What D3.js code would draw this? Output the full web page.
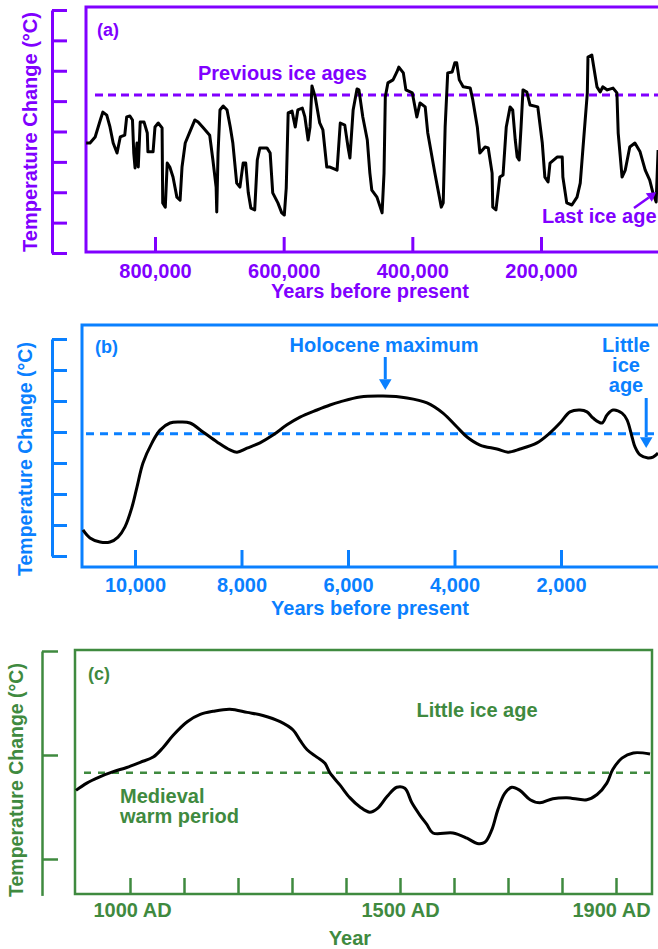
<!DOCTYPE html>
<html>
<head>
<meta charset="utf-8">
<script src="https://cdn.jsdelivr.net/npm/d3@7"></script>
<style>
  body { margin: 0; background: #fff; }
  svg text { font-family: "Liberation Sans", Arial, sans-serif; font-weight: bold; }
</style>
</head>
<body>
<svg id="chart" width="658" height="949"></svg>
<script>
// (a) thousands of years before present
const kyrA = [907,901,893,885,881,875,870,865,859,854,847,844,839,835,833,831,828,826,823,817,
  812,811,803,800,795,789,788,784,781,777,772,766,761,758,753,746,738,733,725,715,
  710,705,704,702,699,694,688,683,679,673,668,663,659,655,651,645,641,637,626,621,
  617,609,603,599,596,593,587,582,578,571,567,562,559,556,551,544,539,533,528,517,
  512,505,500,497,492,486,483,477,470,466,463,455,447,444,442,438,430,424,421,414,
  410,400,393,388,380,376,365,360,355,352,349,345,338,334,331,327,321,310,306,299,
  295,287,282,276,275,270,264,259,254,248,244,240,237,234,231,228,222,217,205,198,
  194,189,186,175,167,166,160,152,144,139,135,128,127,121,118,113,108,104,97,88,
  82,80,74,69,62,54,46,38,31,26,21,18];
const tempA = [3.62,3.62,3.82,4.38,4.64,4.54,4.15,3.62,3.29,3.82,3.88,4.48,4.51,4.38,3.29,2.80,3.62,2.83,4.31,4.31,
  3.95,3.33,3.33,4.15,4.28,4.12,1.65,1.51,2.96,2.83,2.50,1.84,1.74,2.83,3.62,3.98,4.38,4.31,4.12,3.88,
  3.06,2.17,1.35,3.29,4.71,4.84,4.71,4.15,3.62,2.30,2.17,2.96,2.96,1.98,1.48,1.42,3.06,3.46,3.46,3.29,
  1.98,1.65,1.32,1.25,2.14,4.61,4.67,4.15,4.71,4.77,4.48,3.72,4.15,5.50,5.14,4.28,4.05,2.83,2.83,2.73,
  4.28,4.21,3.49,3.13,4.71,5.40,5.37,4.48,3.72,2.63,2.07,1.84,1.32,2.63,5.14,5.60,5.70,5.96,6.12,5.93,
  5.37,5.27,4.48,4.94,4.81,3.95,2.63,2.07,1.51,1.65,4.15,5.93,5.96,6.26,6.26,5.70,5.47,5.43,5.04,4.15,
  3.29,3.49,3.46,2.63,1.51,1.42,2.50,2.57,4.15,4.81,4.71,3.72,3.16,3.06,4.15,5.37,5.30,4.87,4.81,3.62,
  2.50,2.34,2.96,3.16,3.16,2.50,1.65,1.58,1.84,2.30,3.39,5.27,6.45,6.52,6.12,5.47,5.30,5.47,5.37,5.43,
  5.27,3.95,2.50,2.73,3.49,3.62,3.33,2.73,2.40,1.98,1.68,3.39];
const xTicksA = [800, 600, 400, 200];
const yTicksA = [0, 1, 2, 3, 4, 5, 6, 7, 8];
const levelA = 5.2;

// (b) years before present
const yrB = [10977,10845,10657,10470,10319,10188,10056,9962,9850,9681,9531,9343,9155,8967,8723,8460,8216,8084,7897,7653,
  7408,7146,6901,6582,6338,6150,5775,5343,4892,4516,4216,3953,3765,3521,3202,2995,2770,2451,2207,2019,
  1831,1643,1512,1399,1230,1136,1023,854,760,666,610,516,366,272,178];
const tempB = [0.84,0.58,0.45,0.45,0.61,0.94,1.58,2.23,3.00,3.65,4.06,4.29,4.32,4.29,4.00,3.68,3.42,3.35,3.48,3.65,
  3.90,4.23,4.48,4.71,4.87,4.97,5.13,5.16,5.10,4.94,4.61,4.16,3.84,3.58,3.45,3.35,3.45,3.65,3.97,4.29,
  4.65,4.71,4.65,4.45,4.29,4.55,4.71,4.61,4.39,3.84,3.52,3.26,3.16,3.19,3.32];
const xTicksB = [10000, 8000, 6000, 4000, 2000, 0];
const yTicksB = [0, 1, 2, 3, 4, 5, 6, 7];
const levelB = 3.94;

// (c) calendar years AD
const yrC = [900,920,944,969,994,1019,1043,1061,1080,1106,1130,1154,1185,1217,1246,1278,1302,1315,1328,1346,
  1361,1370,1389,1407,1426,1444,1459,1476,1494,1509,1522,1537,1550,1561,1598,1624,1643,1657,1670,1681,
  1694,1707,1722,1741,1759,1783,1809,1846,1865,1883,1894,1911,1932,1963];
const tempC = [0.66,0.73,0.79,0.84,0.88,0.93,0.98,1.07,1.19,1.32,1.39,1.42,1.44,1.41,1.38,1.32,1.24,1.14,1.05,0.98,
  0.92,0.83,0.71,0.59,0.50,0.45,0.49,0.60,0.69,0.68,0.54,0.42,0.33,0.25,0.25,0.20,0.15,0.16,0.28,0.47,
  0.63,0.69,0.66,0.57,0.54,0.58,0.59,0.57,0.62,0.73,0.86,0.97,1.02,1.01];
const xTicksC = [1000, 1100, 1200, 1300, 1400, 1500, 1600, 1700, 1800, 1900];
const xLabelsC = [1000, 1500, 1900];
const yTicksC = [0, 1, 2];
const levelC = 0.83;

const svg = d3.select('#chart');

var arrow = (g, x1, y1, x2, y2, w) => {
  const a = Math.atan2(y2 - y1, x2 - x1);
  const head = w * 3.6, half = w * 2.1;
  const bx = x2 - head * Math.cos(a), by = y2 - head * Math.sin(a);
  g.append('line')
    .attr('x1', x1).attr('y1', y1).attr('x2', bx).attr('y2', by)
    .attr('stroke', 'currentColor').attr('stroke-width', w);
  g.append('path')
    .attr('d', `M${x2},${y2}L${bx + half * Math.sin(a)},${by - half * Math.cos(a)}L${bx - half * Math.sin(a)},${by + half * Math.cos(a)}Z`)
    .attr('fill', 'currentColor');
}

var text = (g, str, x, y, size, anchor) => {
  return g.append('text')
    .attr('x', x).attr('y', y)
    .attr('font-size', size)
    .attr('text-anchor', anchor || 'start')
    .attr('fill', 'currentColor')
    .text(str);
}

var panel = (o) => {
  const g = svg.append('g').style('color', o.color);
  const x = d3.scaleLinear().domain(o.xDomain).range(o.xRange);
  const y = d3.scaleLinear().domain(o.yDomain).range(o.yRange);

  // frame
  g.append('rect')
    .attr('x', o.frame[0]).attr('y', o.frame[1])
    .attr('width', o.frame[2] - o.frame[0]).attr('height', o.frame[3] - o.frame[1])
    .attr('fill', 'none').attr('stroke', 'currentColor').attr('stroke-width', o.sw);

  // y axis, detached from the frame
  const yAxis = g.append('g')
    .attr('transform', `translate(${o.yAxisX},0)`)
    .call(d3.axisRight(o.yAxisScale || y).tickValues(o.yTicks).tickSize(o.yTickLen).tickSizeOuter(0).tickFormat(''));
  yAxis.selectAll('path, line').attr('stroke-width', o.sw);

  // x ticks inside the frame, labels below
  const xAxis = g.append('g')
    .attr('transform', `translate(0,${o.frame[3]})`)
    .call(d3.axisBottom(x).tickValues(o.xTicks).tickSize(-o.xTickLen).tickPadding(o.pad)
      .tickFormat(o.xLabels ? '' : o.fmt));
  xAxis.select('.domain').remove();
  xAxis.selectAll('line').attr('stroke-width', o.sw);
  xAxis.attr('font-family', null).attr('font-size', 20);

  if (o.xLabels) {
    const lab = g.append('g')
      .attr('transform', `translate(0,${o.frame[3]})`)
      .call(d3.axisBottom(x).tickValues(o.xLabels).tickSize(0).tickPadding(o.pad).tickFormat(o.fmt));
    lab.select('.domain').remove();
    lab.attr('font-family', null).attr('font-size', 20);
    lab.selectAll('text').attr('dx', (d, i) => o.labelShift ? o.labelShift[i] : 0);
  }

  // dashed reference level
  g.append('line')
    .attr('x1', o.dash[0]).attr('x2', o.dash[1])
    .attr('y1', y(o.level)).attr('y2', y(o.level))
    .attr('stroke', 'currentColor').attr('stroke-width', o.dashW)
    .attr('stroke-dasharray', o.dashArr);

  // temperature curve
  g.append('path')
    .datum(d3.zip(o.xs, o.ys))
    .attr('d', d3.line().x(d => x(d[0])).y(d => y(d[1])).curve(o.curve))
    .attr('fill', 'none')
    .attr('stroke', '#000')
    .attr('stroke-width', 3)
    .attr('stroke-linejoin', 'round');

  // axis titles
  text(g, 'Temperature Change (°C)', 0, 0, o.titleSize, 'middle')
    .attr('x', null).attr('y', null)
    .attr('transform', `translate(${o.yTitle[0]},${o.yTitle[1]}) rotate(-90)`);
  text(g, o.xTitle, o.xTitlePos[0], o.xTitlePos[1], 20, 'middle');

  return { g, x, y };
}

// (a)
const pa = panel({
  color: '#8000ff', sw: 3,
  xs: kyrA, ys: tempA, curve: d3.curveLinear,
  xDomain: [800, 200], xRange: [155, 541],
  yDomain: [0, 8], yRange: [253, 10],
  frame: [86, 7, 720, 252],
  yAxisX: 52, yTicks: yTicksA, yTickLen: 15,
  xTicks: xTicksA, xTickLen: 15, pad: 12,
  fmt: d => d3.format(',')(d * 1000),
  level: levelA, dash: [95, 658], dashW: 3, dashArr: '8,5',
  titleSize: 20, yTitle: [36.5, 132],
  xTitle: 'Years before present', xTitlePos: [370, 298]
});
text(pa.g, '(a)', 97, 36, 18);
text(pa.g, 'Previous ice ages', 198, 80, 20);
text(pa.g, 'Last ice age', 542, 223, 20);
arrow(pa.g, 634, 208, pa.x(21), pa.y(2.0), 2.5);

// (b)
const pb = panel({
  color: '#0a80ff', sw: 3,
  xs: yrB, ys: tempB, curve: d3.curveCatmullRom,
  xDomain: [10000, 2000], xRange: [135, 561],
  yDomain: [0, 7], yRange: [556, 339],
  frame: [82, 325, 720, 567],
  yAxisX: 52, yTicks: yTicksB, yTickLen: 15,
  xTicks: xTicksB, xTickLen: 17, pad: 11,
  fmt: d3.format(','),
  level: levelB, dash: [86, 658], dashW: 3, dashArr: '8,6',
  titleSize: 19.5, yTitle: [32, 459],
  xTitle: 'Years before present', xTitlePos: [370, 615]
});
text(pb.g, '(b)', 95, 353, 18);
text(pb.g, 'Holocene maximum', 384, 352, 20, 'middle');
arrow(pb.g, pb.x(5300), 357, pb.x(5300), 390, 3);
text(pb.g, 'Little', 626, 352, 20, 'middle');
text(pb.g, 'ice', 626, 372, 20, 'middle');
text(pb.g, 'age', 626, 392, 20, 'middle');
arrow(pb.g, pb.x(400), 398, pb.x(400), 448, 3);

// (c)
const pc = panel({
  color: '#3f8a3f', sw: 2.5,
  xs: yrC, ys: tempC, curve: d3.curveCatmullRom,
  xDomain: [1000, 1500], xRange: [130, 400],
  yDomain: [0, 2], yRange: [859, 651],
  yAxisScale: d3.scaleLinear().domain([-0.35, 2]).range([895.4, 651]),
  frame: [75, 650, 652, 894],
  yAxisX: 42, yTicks: yTicksC, yTickLen: 16,
  xTicks: xTicksC, xTickLen: 16, pad: 9,
  xLabels: xLabelsC, labelShift: [2, 0, -5],
  fmt: d => d + ' AD',
  level: levelC, dash: [84, 650], dashW: 2.5, dashArr: '7,7',
  titleSize: 19.5, yTitle: [22.5, 780],
  xTitle: 'Year', xTitlePos: [350, 945]
});
text(pc.g, '(c)', 88, 680, 18);
text(pc.g, 'Little ice age', 477, 717, 20, 'middle');
text(pc.g, 'Medieval', 120, 803, 20);
text(pc.g, 'warm period', 120, 823, 20);
</script>
</body>
</html>
